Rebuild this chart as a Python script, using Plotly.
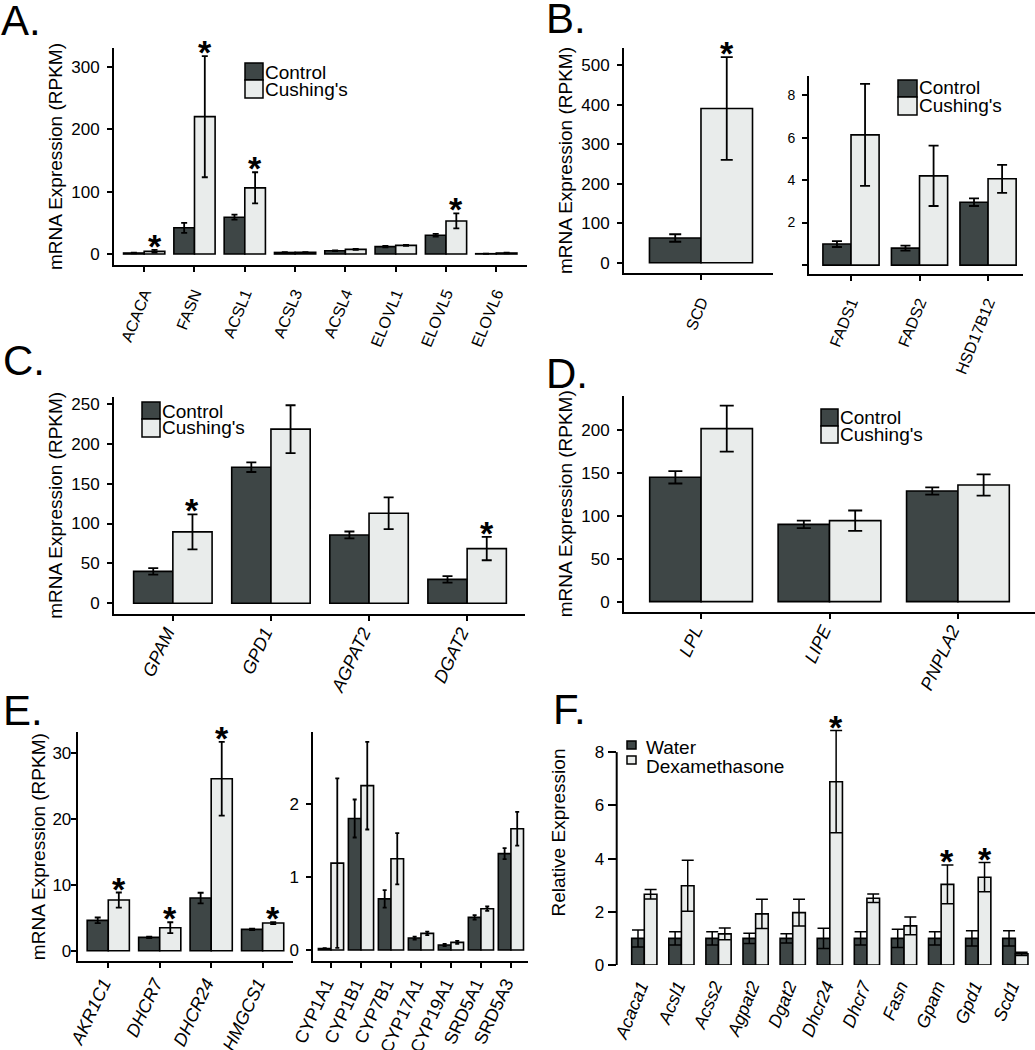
import plotly.graph_objects as go

W, H = 1035, 1050
FONT = "Liberation Sans, Arial, sans-serif"
DARK = "#3e4646"
LIGHT = "#e9eceb"

# ---------------- data ----------------
A_genes = ["ACACA", "FASN", "ACSL1", "ACSL3", "ACSL4", "ELOVL1", "ELOVL5", "ELOVL6"]
A_ctrl = [1.6, 42, 59, 2.5, 5.3, 11.8, 30, 0.5]
A_ctrl_err = [0.5, 8, 4, 0.3, 0.6, 1.0, 2.2, 0.2]
A_cush = [4.3, 220, 106, 2.7, 7.5, 13.9, 53, 1.6]
A_cush_err = [2.2, 97, 25, 0.3, 0.8, 0.8, 12, 0.5]
A_sig = [True, True, True, False, False, False, True, False]

B1_genes = ["SCD"]
B1_ctrl = [62.5]
B1_ctrl_err = [9.5]
B1_cush = [390]
B1_cush_err = [130]
B1_sig = [True]

B2_genes = ["FADS1", "FADS2", "HSD17B12"]
B2_ctrl = [0.99, 0.80, 2.96]
B2_ctrl_err = [0.14, 0.12, 0.18]
B2_cush = [6.13, 4.20, 4.06]
B2_cush_err = [2.40, 1.42, 0.66]
B2_sig = [False, False, False]

C_genes = ["GPAM", "GPD1", "AGPAT2", "DGAT2"]
C_ctrl = [40, 170.6, 85.7, 30]
C_ctrl_err = [4, 6, 4.3, 4]
C_cush = [89.5, 218.3, 112.9, 68.6]
C_cush_err = [22, 30, 20, 14.6]
C_sig = [True, False, False, True]

D_genes = ["LPL", "LIPE", "PNPLA2"]
D_ctrl = [144.9, 90.1, 129]
D_ctrl_err = [7.2, 4.3, 4.2]
D_cush = [201.6, 94.4, 136]
D_cush_err = [26.8, 11.8, 12.4]
D_sig = [False, False, False]

E1_genes = ["AKR1C1", "DHCR7", "DHCR24", "HMGCS1"]
E1_ctrl = [4.6, 2.02, 7.98, 3.23]
E1_ctrl_err = [0.43, 0.1, 0.8, 0.1]
E1_cush = [7.68, 3.48, 26.06, 4.19]
E1_cush_err = [1.14, 0.83, 5.6, 0.15]
E1_sig = [True, True, True, True]

E2_genes = ["CYP1A1", "CYP1B1", "CYP7B1", "CYP17A1", "CYP19A1", "SRD5A1", "SRD5A3"]
E2_ctrl = [0.02, 1.80, 0.70, 0.164, 0.068, 0.447, 1.32]
E2_ctrl_err = [0.005, 0.26, 0.12, 0.02, 0.015, 0.03, 0.075]
E2_cush = [1.19, 2.25, 1.25, 0.228, 0.105, 0.566, 1.66]
E2_cush_err = [1.16, 0.60, 0.35, 0.025, 0.02, 0.03, 0.23]
E2_sig = [False, False, False, False, False, False, False]

F_genes = ["Acaca1", "Acsl1", "Acss2", "Agpat2", "Dgat2", "Dhcr24", "Dhcr7", "Fasn", "Gpam", "Gpd1", "Scd1"]
F_water = [1.0, 1.0, 1.0, 1.0, 1.0, 1.0, 1.0, 1.0, 1.0, 1.0, 1.0]
F_water_err = [0.32, 0.25, 0.25, 0.19, 0.17, 0.38, 0.25, 0.34, 0.25, 0.29, 0.29]
F_dex = [2.66, 2.98, 1.17, 1.92, 1.97, 6.89, 2.51, 1.47, 3.03, 3.30, 0.42]
F_dex_err = [0.18, 0.96, 0.22, 0.55, 0.50, 1.92, 0.16, 0.33, 0.73, 0.55, 0.06]
F_sig = [False, False, False, False, False, True, False, False, True, True, False]


def xdom(a, b):
    return [a / W, b / W]


def ydom(top, bottom):
    return [1 - bottom / H, 1 - top / H]


fig = go.Figure()
annotations = []
shapes = []


def add_panel(k, genes, v1, e1, v2, e2, sig, bw, cap, thick, names, star_size=34, star_shift=4):
    xa = "x" if k == 1 else f"x{k}"
    ya = "y" if k == 1 else f"y{k}"
    idx = list(range(len(genes)))
    for vals, errs, col, off, name in [(v1, e1, DARK, -bw, names[0]), (v2, e2, LIGHT, 0.0, names[1])]:
        fig.add_trace(go.Bar(
            x=idx, y=vals, width=bw, offset=off, name=name, showlegend=False,
            marker=dict(color=col, line=dict(color="black", width=1.6)),
            error_y=dict(type="data", array=errs, visible=True, color="black", thickness=thick, width=cap),
            xaxis=xa, yaxis=ya,
        ))
    for i, s in enumerate(sig):
        if s:
            annotations.append(dict(
                x=i + bw / 2, y=v2[i] + e2[i], xref=xa, yref=ya, text="<b>*</b>", showarrow=False,
                font=dict(size=star_size, color="black", family=FONT),
                xanchor="center", yanchor="middle", yshift=star_shift,
            ))


def axis_common(size=17):
    return dict(showgrid=False, zeroline=False, showline=True, linecolor="black", linewidth=2,
                ticks="outside", ticklen=5, tickwidth=2, tickcolor="black", automargin=False,
                tickfont=dict(size=size, color="black", family=FONT))


names_h = ["Control", "Cushing's"]
add_panel(1, A_genes, A_ctrl, A_ctrl_err, A_cush, A_cush_err, A_sig, 0.41, 3, 1.8, names_h)
add_panel(2, B1_genes, B1_ctrl, B1_ctrl_err, B1_cush, B1_cush_err, B1_sig, 0.415, 6, 1.8, names_h)
add_panel(3, B2_genes, B2_ctrl, B2_ctrl_err, B2_cush, B2_cush_err, B2_sig, 0.41, 5, 1.8, names_h)
add_panel(4, C_genes, C_ctrl, C_ctrl_err, C_cush, C_cush_err, C_sig, 0.40, 5, 1.8, names_h)
add_panel(5, D_genes, D_ctrl, D_ctrl_err, D_cush, D_cush_err, D_sig, 0.40, 7, 1.8, names_h)
add_panel(6, E1_genes, E1_ctrl, E1_ctrl_err, E1_cush, E1_cush_err, E1_sig, 0.41, 3, 1.8, names_h)
add_panel(7, E2_genes, E2_ctrl, E2_ctrl_err, E2_cush, E2_cush_err, E2_sig, 0.42, 2, 1.8, names_h)
add_panel(8, F_genes, F_water, F_water_err, F_dex, F_dex_err, F_sig, 0.34, 6, 1.5, ["Water", "Dexamethasone"])

YT = "mRNA Expression (RPKM)"
TF = dict(size=19, color="black", family=FONT)


def xaxis(genes, dom, rng, anchor, italic, size, angle, standoff, shift=0):
    d = axis_common(size)
    d.update(domain=dom, range=rng, anchor=anchor, tickvals=list(range(len(genes))), ticktext=genes,
             tickangle=angle, ticklabelstandoff=standoff, ticklabelshift=shift)
    d["tickfont"]["style"] = "italic" if italic else "normal"
    return d


def yaxis(dom, rng, anchor, tickvals, ticktext=None, title=None, size=17, standoff=4, lab_off=4):
    d = axis_common(size)
    d.update(domain=dom, range=rng, anchor=anchor, tickvals=tickvals, ticklabelstandoff=lab_off)
    if ticktext is not None:
        d["ticktext"] = ticktext
    if title:
        d["title"] = dict(text=title, font=TF, standoff=standoff)
    return d


layout = dict(
    width=W, height=H, margin=dict(l=0, r=0, t=0, b=0, autoexpand=False),
    paper_bgcolor="white", plot_bgcolor="white", barmode="overlay", showlegend=False,
    font=dict(family=FONT, color="black"),
    # A
    xaxis=xaxis(A_genes, xdom(114, 527), [-0.6, 7.61], "y", False, 16, -68, 6),
    yaxis=yaxis(ydom(48, 265), [-17.6, 330], "x", [0, 100, 200, 300], title=YT),
    # B left
    xaxis2=xaxis(B1_genes, xdom(624, 773), [-0.62, 0.58], "y2", False, 16, -68, 6),
    yaxis2=yaxis(ydom(48, 273), [-26, 543], "x2", [0, 100, 200, 300, 400, 500], title=YT),
    # B right
    xaxis3=xaxis(B2_genes, xdom(809, 1023), [-0.613, 2.51], "y3", False, 16, -68, 6),
    yaxis3=yaxis(ydom(76, 274), [-0.42, 8.9], "x3", [0, 2, 4, 6, 8], ["", "2", "4", "6", "8"], size=14),
    # C
    xaxis4=xaxis(C_genes, xdom(114, 525), [-0.6, 3.59], "y4", True, 18, -65, -6, -6),
    yaxis4=yaxis(ydom(396.7, 614), [-13.4, 259], "x4", [0, 50, 100, 150, 200, 250], title=YT),
    # D
    xaxis5=xaxis(D_genes, xdom(624, 1035), [-0.6, 2.6], "y5", True, 18, -65, -6, -6),
    yaxis5=yaxis(ydom(395.7, 611.7), [-11.7, 240], "x5", [0, 50, 100, 150, 200], title=YT),
    # E left
    xaxis6=xaxis(E1_genes, xdom(77.7, 293), [-0.594, 3.59], "y6", True, 18, -65, -2, -5),
    yaxis6=yaxis(ydom(732.3, 961), [-1.56, 33.1], "x6", [0, 10, 20, 30], title=YT, lab_off=-4, standoff=2),
    # E right
    xaxis7=xaxis(E2_genes, xdom(313.3, 528), [-0.59, 6.57], "y7", False, 18, -65, -2, -5),
    yaxis7=yaxis(ydom(732.3, 961), [-0.15, 2.98], "x7", [0, 1, 2]),
    # F
    xaxis8=xaxis(F_genes, xdom(616.7, 1035), [-0.744, 10.53], "y8", True, 18, -68, 6, -4),
    yaxis8=yaxis(ydom(700, 965), [0, 9.96], "x8", [0, 2, 4, 6, 8], title="Relative Expression",
                 lab_off=0, standoff=24),
)
layout["xaxis7"]["tickfont"]["style"] = "normal"
# F axis styling: no x axis line / ticks; y line only from 0 to 8
layout["xaxis8"].update(showline=False, ticks="")
layout["yaxis8"].update(showline=False, ticklen=8)
shapes.append(dict(type="line", xref="x8 domain", yref="y8", x0=0, x1=0, y0=0, y1=8,
                   line=dict(color="black", width=2)))


# legends (drawn as boxes + text)
def legend_boxes(x0, x1, rows, labels, text_x, text_ys, fills, size=19):
    for (t, b), f in zip(rows, fills):
        shapes.append(dict(type="rect", xref="paper", yref="paper", x0=x0 / W, x1=x1 / W,
                           y0=1 - b / H, y1=1 - t / H, fillcolor=f, line=dict(color="black", width=1.5)))
    for lab, ty in zip(labels, text_ys):
        annotations.append(dict(x=text_x / W, y=1 - ty / H, xref="paper", yref="paper", text=lab,
                                showarrow=False, xanchor="left", yanchor="middle", borderpad=0,
                                font=dict(size=size, color="black", family=FONT)))


legend_boxes(245, 263, [(63, 80), (80, 98)], names_h, 264, [72, 89], [DARK, LIGHT])
legend_boxes(898, 917, [(80, 97), (97, 115)], names_h, 918, [88, 106], [DARK, LIGHT])
legend_boxes(142, 160, [(402, 419), (419, 437)], names_h, 161, [411, 428], [DARK, LIGHT])
legend_boxes(821, 838, [(409, 426), (426, 443)], names_h, 839, [417, 434], [DARK, LIGHT])
legend_boxes(627, 636, [(741, 749), (756, 764)], ["Water", "Dexamethasone"], 645, [747, 766], [DARK, LIGHT])

# panel letters
for lab, x, top in [("A.", 0, 5), ("B.", 545, 3), ("C.", 2, 345), ("D.", 545, 358), ("E.", 2, 695), ("F.", 552, 694)]:
    annotations.append(dict(x=x / W, y=1 - (top - 9) / H, xref="paper", yref="paper", text=lab,
                            showarrow=False, xanchor="left", yanchor="top", borderpad=0,
                            font=dict(size=42, color="black", family=FONT)))

layout["annotations"] = annotations
layout["shapes"] = shapes
fig.update_layout(**layout)
fig.write_html("out.html", config={"displayModeBar": False},
               post_script="document.body.style.margin='0';document.body.style.overflow='hidden';")
